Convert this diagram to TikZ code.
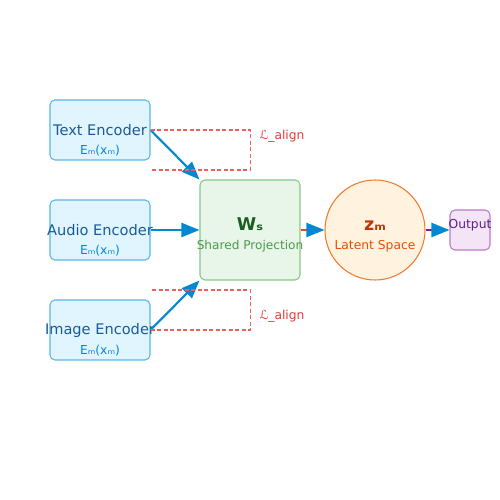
\documentclass[tikz,border=0pt]{standalone}
\usepackage{fontspec}
\setmainfont{DejaVu Sans}
\usetikzlibrary{arrows.meta}
\definecolor{encfill}{HTML}{E1F5FE}
\definecolor{encdraw}{HTML}{5AB6E8}
\definecolor{enctext}{HTML}{1A5A9A}
\definecolor{encsub}{HTML}{0288D1}
\definecolor{projfill}{HTML}{E8F5E9}
\definecolor{projdraw}{HTML}{8BC48B}
\definecolor{projtext}{HTML}{1B5E20}
\definecolor{projsub}{HTML}{4C9A4C}
\definecolor{latfill}{HTML}{FFF3E0}
\definecolor{latdraw}{HTML}{EF7A30}
\definecolor{lattext}{HTML}{BF360C}
\definecolor{latsub}{HTML}{E65100}
\definecolor{outfill}{HTML}{F3E5F5}
\definecolor{outdraw}{HTML}{BA7ACB}
\definecolor{outtext}{HTML}{5E1E8E}
\definecolor{arrowblue}{HTML}{0288D1}
\definecolor{lossred}{HTML}{EF5E5E}
\definecolor{losstext}{HTML}{E03C3C}
\definecolor{orangeline}{HTML}{E64A19}
\definecolor{purpleline}{HTML}{7B1FA2}
\begin{document}
\begin{tikzpicture}[
    encbox/.style={draw=encdraw,fill=encfill,line width=0.6pt,rounded corners=0.1cm,
        minimum width=2cm,minimum height=1.2cm,inner sep=0pt},
    enctxt/.style={text=enctext,font=\fontsize{8.3}{9}\selectfont,inner sep=0pt},
    encsubtxt/.style={text=encsub,font=\fontsize{7}{8}\selectfont,inner sep=0pt},
    feed/.style={draw=arrowblue,line width=1.2pt,-{Triangle[length=0.36cm,width=0.28cm,color=arrowblue]}},
    lossline/.style={draw=lossred,line width=0.7pt,dash pattern=on 2.3pt off 1.4pt},
    losslabel/.style={text=losstext,font=\fontsize{7}{8}\selectfont,inner sep=0pt}
]
    \useasboundingbox (-5,-5) rectangle (5,5);

    \node[encbox] (tenc) at (-3,2.4){};
    \node[encbox] (aenc) at (-3,0.4){};
    \node[encbox] (ienc) at (-3,-1.6){};
    \node[enctxt] (ttxt) at (tenc.center){Text Encoder};
    \node[enctxt] (atxt) at (aenc.center){Audio Encoder};
    \node[enctxt] (itxt) at (ienc.center){Image Encoder};
    \node[encsubtxt] (tsub) at (-3,1.98){Eₘ(xₘ)};
    \node[encsubtxt] (asub) at (-3,-0.02){Eₘ(xₘ)};
    \node[encsubtxt] (isub) at (-3,-2.02){Eₘ(xₘ)};

    \node[draw=projdraw,fill=projfill,line width=0.6pt,rounded corners=0.1cm,
        minimum width=2cm,minimum height=2cm] (proj) at (0,0.4){};
    \node[text=projtext,font=\bfseries\fontsize{10}{12}\selectfont,inner sep=0pt] (wlab) at (0,0.52){Wₛ};
    \node[text=projsub,font=\fontsize{6.9}{8}\selectfont,inner sep=0pt] (plab) at (0,0.08){Shared Projection};

    \node[draw=latdraw,fill=latfill,line width=0.6pt,circle,minimum size=2cm] (lat) at (2.5,0.4){};
    \node[text=lattext,font=\bfseries\fontsize{10}{12}\selectfont,inner sep=0pt] (zlab) at (2.5,0.48){zₘ};
    \node[text=latsub,font=\fontsize{7}{8}\selectfont,inner sep=0pt] (llab) at (2.5,0.08){Latent Space};

    \node[draw=outdraw,fill=outfill,line width=0.6pt,rounded corners=0.1cm,
        minimum size=0.8cm] (out) at (4.4,0.4){};
    \node[text=outtext,font=\fontsize{7}{8}\selectfont,inner sep=0pt] (olab) at (4.4,0.5){Output};

    \draw[feed] (tenc.east) -- (proj.north west);
    \draw[feed] (aenc.east) -- (proj.west);
    \draw[feed] (ienc.east) -- (proj.south west);
    \draw[feed,draw=orangeline] (proj.east) -- (lat.west);
    \draw[feed,draw=purpleline] (lat.east) -- (out.west);

    \draw[lossline] (tenc.east) -- ++(2,0) -- ++(0,-0.8) -- ++(-2,0);
    \draw[lossline] (ienc.east) -- ++(2,0) -- ++(0,0.8) -- ++(-2,0);
    \node[losslabel] (ltop) at (0.64,2.28){ℒ\_align};
    \node[losslabel] (lbot) at (0.64,-1.32){ℒ\_align};
\end{tikzpicture}
\end{document}
